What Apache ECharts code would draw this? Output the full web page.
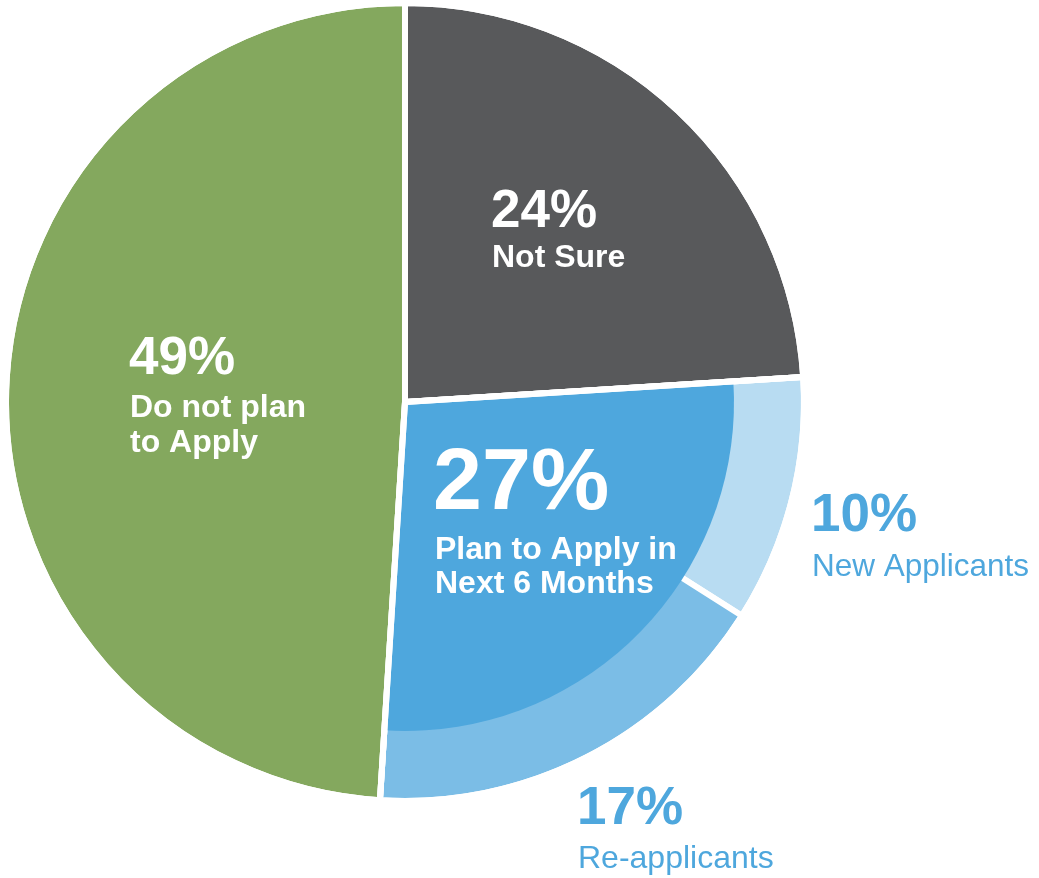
<!DOCTYPE html>
<html>
<head>
<meta charset="utf-8">
<title>Plans to apply</title>
<script src="https://cdn.jsdelivr.net/npm/echarts@6/dist/echarts.min.js"></script>
<style>
  html, body { margin: 0; padding: 0; background: #ffffff; }
  #chart { width: 1039px; height: 878px; }
</style>
</head>
<body>
<div id="chart"></div>
<script>
// Main answer groups (percent of respondents), clockwise from 12 o'clock
const mainNames = ['Not Sure', 'Plan to Apply in Next 6 Months', 'Do not plan to Apply'];
const mainLines = [['Not Sure'], ['Plan to Apply in', 'Next 6 Months'], ['Do not plan', 'to Apply']];
const mainValues = [24, 27, 49];

// Breakdown of the "plan to apply" group (outer ring)
const subNames = ['New Applicants', 'Re-applicants'];
const subValues = [10, 17];

const COLORS = {
  notSure: '#58595b',
  plan: '#4ea7dd',
  noPlan: '#84a85e',
  newApp: '#b8dcf2',
  reApp: '#7bbde6',
  accent: '#4ea7dd'
};

const FONT = '"Liberation Sans", Arial, Helvetica, sans-serif';
const CENTER = [405, 402];
const R_OUTER = 399;
const R_INNER = 329;
const GAP = 6;

const clear = 'rgba(0,0,0,0)';

// Full pie: not sure, the two sub-groups, do not plan
const baseData = [
  { name: mainNames[0], value: mainValues[0], itemStyle: { color: COLORS.notSure } },
  { name: subNames[0], value: subValues[0], itemStyle: { color: COLORS.newApp } },
  { name: subNames[1], value: subValues[1], itemStyle: { color: COLORS.reApp } },
  { name: mainNames[2], value: mainValues[2], itemStyle: { color: COLORS.noPlan } }
];

// Inner disc sector for the whole "plan to apply" group
const innerData = [
  { name: mainNames[0], value: mainValues[0], itemStyle: { color: clear } },
  { name: mainNames[1], value: mainValues[1], itemStyle: { color: COLORS.plan } },
  { name: mainNames[2], value: mainValues[2], itemStyle: { color: clear } }
];

// White separators between the three main groups
const dividerData = mainNames.map((n, i) => ({ name: n, value: mainValues[i] }));

const common = {
  type: 'pie',
  center: CENTER,
  startAngle: 90,
  clockwise: true,
  label: { show: false },
  labelLine: { show: false },
  emphasis: { disabled: true },
  silent: true,
  animation: false,
  avoidLabelOverlap: false
};

function textBlock(x, y, lines, opts) {
  return lines.map((t, i) => ({
    type: 'text',
    x: x,
    y: y + i * opts.lineHeight,
    silent: true,
    z: 100,
    style: {
      text: t,
      fill: opts.color,
      fontSize: opts.size,
      fontWeight: opts.weight,
      fontFamily: FONT,
      textAlign: 'left',
      textVerticalAlign: 'middle'
    }
  }));
}

const bigLabel = { color: '#ffffff', size: 53, weight: 'bold', lineHeight: 0 };
const smallWhite = { color: '#ffffff', size: 32, weight: 'bold', lineHeight: 35 };

const graphics = [].concat(
  textBlock(491, 212, [mainValues[0] + '%'], bigLabel),
  textBlock(492, 258, mainLines[0], smallWhite),
  textBlock(129, 359, [mainValues[2] + '%'], bigLabel),
  textBlock(130, 408, mainLines[2], smallWhite),
  textBlock(433, 485, [mainValues[1] + '%'], { color: '#ffffff', size: 88, weight: 'bold', lineHeight: 0 }),
  textBlock(435, 550, mainLines[1], { color: '#ffffff', size: 32, weight: 'bold', lineHeight: 34 }),
  textBlock(811, 516, [subValues[0] + '%'], { color: COLORS.accent, size: 53, weight: 'bold', lineHeight: 0 }),
  textBlock(812, 567, [subNames[0]], { color: COLORS.accent, size: 31.5, weight: 'normal', lineHeight: 0 }),
  textBlock(577, 809, [subValues[1] + '%'], { color: COLORS.accent, size: 53, weight: 'bold', lineHeight: 0 }),
  textBlock(578, 859, [subNames[1]], { color: COLORS.accent, size: 32, weight: 'normal', lineHeight: 0 })
);

const chart = echarts.init(document.getElementById('chart'), null, { renderer: 'canvas' });
chart.setOption({
  backgroundColor: '#ffffff',
  animation: false,
  series: [
    Object.assign({}, common, {
      name: 'base',
      z: 1,
      radius: [0, R_OUTER],
      itemStyle: { borderColor: '#ffffff', borderWidth: GAP },
      data: baseData
    }),
    Object.assign({}, common, {
      name: 'inner',
      z: 2,
      radius: [0, R_INNER],
      itemStyle: { borderWidth: 0 },
      data: innerData
    }),
    Object.assign({}, common, {
      name: 'dividers',
      z: 3,
      radius: [0, R_OUTER],
      itemStyle: { color: clear, borderColor: '#ffffff', borderWidth: GAP },
      data: dividerData
    })
  ],
  graphic: graphics
});
</script>
</body>
</html>
